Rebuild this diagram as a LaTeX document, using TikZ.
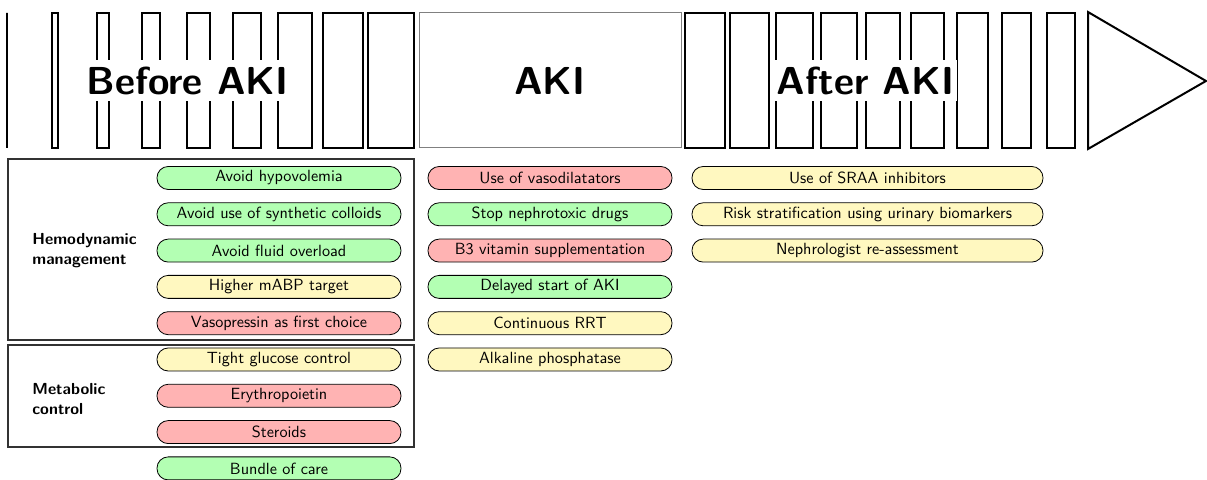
\documentclass[tikz,border=0pt]{standalone}
\usepackage{fontspec}
\newfontfamily\pillfont{lmsans10-regular.otf}
\newfontfamily\labelfont{lmsans10-bold.otf}
\definecolor{pgreen}{RGB}{179,255,179}
\definecolor{pred}{RGB}{255,179,179}
\definecolor{pyellow}{RGB}{255,248,192}
\definecolor{grpgray}{RGB}{50,50,50}
\begin{document}
\begin{tikzpicture}[x=0.5pt,y=-0.5pt,
  barline/.style={draw=black,line width=1pt},
  phase/.style={font=\labelfont\fontsize{19.5}{23}\selectfont,inner xsep=1.5pt,inner ysep=0pt,minimum height=20.5pt},
  pill/.style={draw=black,line width=0.4pt,rounded corners=5.6pt,minimum height=11.5pt,inner sep=0pt,font=\pillfont\fontsize{8.1}{9}\selectfont},
  pillA/.style={pill,minimum width=122pt},
  pillB/.style={pill,minimum width=175.5pt},
  good/.style={fill=pgreen},
  bad/.style={fill=pred},
  unsure/.style={fill=pyellow},
  grp/.style={draw=grpgray,line width=0.6pt},
  grplabel/.style={anchor=west,align=left,inner sep=0pt,font=\labelfont\fontsize{8.0}{10}\selectfont}
]
\useasboundingbox (0,0) rectangle (1207,480);
% timeline bar
\foreach \i in {0,...,8} {
  \draw[barline] ({7+45.1*\i},13) rectangle ({7+45.1*\i+5.75*\i},148);
}
\draw[draw=gray,line width=0.5pt] (419,13) rectangle (681,148);
\foreach \s/\w in {685/40,730/38.5,775.5/37,821/35.5,866/34,911/32.5,956.5/31,1001.5/29.5,1047/28} {
  \draw[barline] (\s,13) rectangle ({\s+\w},148);
}
\draw[barline,line join=miter] (1088,12) -- (1206,81) -- (1088,149) -- cycle;
\node[phase,fill=white] (before) at (187.5,81) {Before AKI};
\node[phase] (aki) at (550,81) {AKI};
\node[phase,fill=white] (after) at (865.5,81) {After AKI};
% group boxes
\draw[grp] (8,159) rectangle (414,340);
\draw[grp] (8,345) rectangle (414,447);
\node[grplabel] (hemo) at (32,251) {Hemodynamic\\management};
\node[grplabel] (meta) at (32,399) {Metabolic\\control};
% column 1
\node[pillA,good]   (a1) at (279,178)   {Avoid hypovolemia};
\node[pillA,good]   (a2) at (279,214.3) {Avoid use of synthetic colloids};
\node[pillA,good]   (a3) at (279,250.6) {Avoid fluid overload};
\node[pillA,unsure] (a4) at (279,286.9) {Higher mABP target};
\node[pillA,bad]    (a5) at (279,323.2) {Vasopressin as first choice};
\node[pillA,unsure] (a6) at (279,359.5) {Tight glucose control};
\node[pillA,bad]    (a7) at (279,395.8) {Erythropoietin};
\node[pillA,bad]    (a8) at (279,432.1) {Steroids};
\node[pillA,good]   (a9) at (279,468.4) {Bundle of care};
% column 2
\node[pillA,bad]    (b1) at (550,178)   {Use of vasodilatators};
\node[pillA,good]   (b2) at (550,214.3) {Stop nephrotoxic drugs};
\node[pillA,bad]    (b3) at (550,250.6) {B3 vitamin supplementation};
\node[pillA,good]   (b4) at (550,286.9) {Delayed start of AKI};
\node[pillA,unsure] (b5) at (550,323.2) {Continuous RRT};
\node[pillA,unsure] (b6) at (550,359.5) {Alkaline phosphatase};
% column 3
\node[pillB,unsure] (c1) at (867.5,178)   {Use of SRAA inhibitors};
\node[pillB,unsure] (c2) at (867.5,214.3) {Risk stratification using urinary biomarkers};
\node[pillB,unsure] (c3) at (867.5,250.6) {Nephrologist re-assessment};
\end{tikzpicture}
\end{document}
